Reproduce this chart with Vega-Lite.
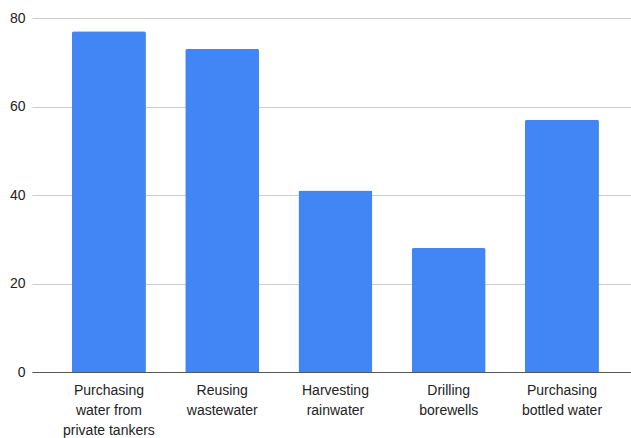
{
  "$schema": "https://vega.github.io/schema/vega-lite/v6.json",
  "width": 599,
  "height": 354,
  "autosize": {"type": "none"},
  "padding": {"left": 32, "top": 18, "right": 0, "bottom": 66},
  "background": "white",
  "data": {
    "values": [
      {"method": "Purchasing\nwater from\nprivate tankers", "value": 77},
      {"method": "Reusing\nwastewater", "value": 73},
      {"method": "Harvesting\nrainwater", "value": 41},
      {"method": "Drilling\nborewells", "value": 28},
      {"method": "Purchasing\nbottled water", "value": 57}
    ]
  },
  "config": {
    "view": {"stroke": null},
    "font": "Liberation Sans"
  },
  "mark": {"type": "bar", "color": "#4285F4", "cornerRadiusTopLeft": 2, "cornerRadiusTopRight": 2},
  "encoding": {
    "x": {
      "field": "method",
      "type": "nominal",
      "sort": null,
      "scale": {"paddingInner": 0.347, "paddingOuter": 0.318, "align": 0.555},
      "axis": {
        "title": null,
        "labelAngle": 0,
        "labelExpr": "split(datum.label, '\\n')",
        "labelFontSize": 14,
        "labelColor": "#222222",
        "labelLineHeight": 20,
        "labelPadding": 11,
        "labelBaseline": "top",
        "ticks": false,
        "domainColor": "#555555",
        "domainWidth": 1.2,
        "grid": false
      }
    },
    "y": {
      "field": "value",
      "type": "quantitative",
      "scale": {"domain": [0, 80], "nice": false},
      "axis": {
        "title": null,
        "values": [0, 20, 40, 60, 80],
        "labelFontSize": 14,
        "labelColor": "#222222",
        "labelPadding": 7,
        "ticks": false,
        "domain": false,
        "gridColor": "#cccccc",
        "gridWidth": 1
      }
    }
  }
}
